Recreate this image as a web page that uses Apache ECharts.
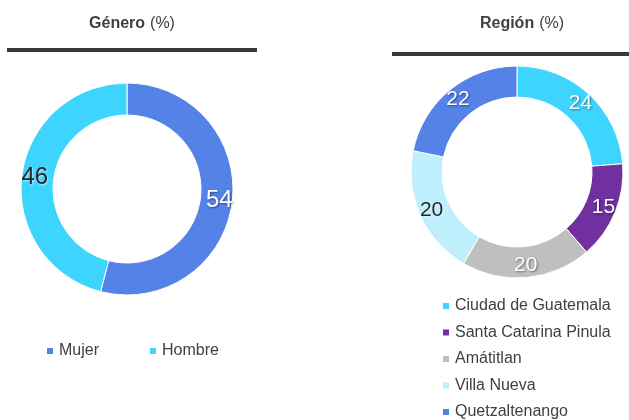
<!DOCTYPE html>
<html lang="es">
  <head>
    <meta charset="UTF-8" />
    <title>Género y Región</title>
    <script src="https://cdn.jsdelivr.net/npm/echarts@6/dist/echarts.min.js"></script>
    <style>
      html, body { margin: 0; padding: 0; background: #fff; }
      #chart { width: 629px; height: 420px; }
    </style>
  </head>
  <body>
    <div id="chart"></div>

    <script>
      // data
      const generoNames = ["Mujer", "Hombre"];
      const generoValues = [54, 46];
      const generoColors = ["#5482E6", "#3DD5FE"];
      const generoLabelColors = ["#fff", "#262626"];

      const regionNames = ["Ciudad de Guatemala", "Santa Catarina Pinula", "Amátitlan", "Villa Nueva", "Quetzaltenango"];
      const regionValues = [24, 15, 20, 20, 22];
      const regionColors = ["#3DD5FE", "#7030A0", "#BFBFBF", "#BDEFFC", "#5482E6"];
      const regionLabelColors = ["#fff", "#fff", "#fff", "#262626", "#fff"];

      const FONT = "Liberation Sans, Arial, sans-serif";
      const TEXT = "#404040";

      function items(names, values, colors, labelColors) {
        return names.map((n, i) => ({
          name: n,
          value: values[i],
          itemStyle: { color: colors[i] },
          label: {
            color: labelColors[i],
            textShadowColor: labelColors[i] === "#fff" ? "rgba(0,0,0,0.45)" : "rgba(255,255,255,0.6)",
          },
        }));
      }

      const pieBase = {
        type: "pie",
        startAngle: 90,
        clockwise: true,
        avoidLabelOverlap: false,
        itemStyle: { borderColor: "#fff", borderWidth: 1 },
        label: {
          show: true,
          position: "inside",
          formatter: "{c}",
          fontFamily: FONT,
          textShadowBlur: 2,
          textShadowOffsetX: 1,
          textShadowOffsetY: 1,
        },
        labelLine: { show: false },
        emphasis: { disabled: true },
      };

      const titleRich = {
        b: { fontFamily: FONT, fontSize: 16, fontWeight: "bold", color: TEXT },
        n: { fontFamily: FONT, fontSize: 16, fontWeight: "normal", color: TEXT },
      };

      const chart = echarts.init(document.getElementById("chart"));
      chart.setOption({
        animation: false,
        title: [
          { text: "{b|Género} {n|(%)}", left: 127, top: 10, textAlign: "center", textStyle: { rich: titleRich } },
          { text: "{b|Región} {n|(%)}", left: 517, top: 10, textAlign: "center", textStyle: { rich: titleRich } },
        ],
        graphic: [
          { type: "rect", shape: { x: 7, y: 48, width: 250, height: 4 }, style: { fill: "#3a3a3a" } },
          { type: "rect", shape: { x: 392, y: 52, width: 237, height: 4 }, style: { fill: "#3a3a3a" } },
        ],
        legend: [
          {
            data: generoNames,
            orient: "horizontal",
            left: 45,
            top: 343,
            padding: 0,
            icon: "rect",
            itemWidth: 8,
            itemHeight: 8,
            itemGap: 49,
            textStyle: { fontFamily: FONT, fontSize: 16, lineHeight: 16, color: TEXT },
            selectedMode: false,
          },
          {
            data: regionNames,
            orient: "vertical",
            left: 441,
            top: 298,
            padding: 0,
            icon: "rect",
            itemWidth: 8,
            itemHeight: 8,
            itemGap: 10.5,
            textStyle: { fontFamily: FONT, fontSize: 16, lineHeight: 16, color: TEXT },
            selectedMode: false,
          },
        ],
        series: [
          Object.assign({}, pieBase, {
            name: "Género",
            center: [127, 189],
            radius: [74, 106],
            label: Object.assign({}, pieBase.label, { fontSize: 24 }),
            data: items(generoNames, generoValues, generoColors, generoLabelColors),
          }),
          Object.assign({}, pieBase, {
            name: "Región",
            center: [517, 172],
            radius: [75, 106],
            label: Object.assign({}, pieBase.label, { fontSize: 21 }),
            data: items(regionNames, regionValues, regionColors, regionLabelColors),
          }),
        ],
      });
    </script>
  </body>
</html>
